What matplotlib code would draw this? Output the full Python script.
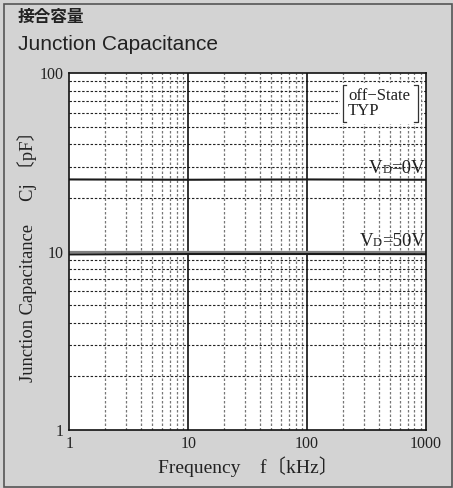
import matplotlib
matplotlib.use("Agg")
import matplotlib.pyplot as plt
from matplotlib.patches import Rectangle
from matplotlib.lines import Line2D
from matplotlib.offsetbox import TextArea, HPacker, AnnotationBbox
from matplotlib.ticker import FixedLocator

# ---- data ----
freq_khz = [1, 10, 100, 1000]
cj_vd0 = [25.4, 25.3, 25.4, 25.3]
cj_vd50 = [9.65, 9.7, 9.7, 9.68]
x_ticks = [1, 10, 100, 1000]
x_ticklabels = ["1", "10", "100", "1000"]
y_ticks = [1, 10, 100]
y_ticklabels = ["1", "10", "100"]
title_ja = "接合容量"
title_en = "Junction Capacitance"
xlabel = "Frequency　f〔kHz〕"
ylabel = "Junction Capacitance　 Cj 〔pF〕"
note_lines = ["off−State", "TYP"]

W, H = 453, 488
BG = "#d3d3d3"
TXT = "#222222"
SERIF = ["Liberation Serif", "DejaVu Serif"]

fig = plt.figure(figsize=(W / 100, H / 100), dpi=100, facecolor=BG)

# outer border
fig.patches.append(Rectangle((4 / W, 1 / H), (W - 5) / W, (H - 5) / H,
                             transform=fig.transFigure, fill=False,
                             edgecolor="#555555", lw=1.2))

fig.text(18 / W, 1 - 17 / H, title_ja, fontsize=12, fontweight="bold",
         family=["Noto Sans CJK JP", "DejaVu Sans"], color=TXT,
         ha="left", va="center")
fig.text(18 / W, 1 - 45 / H, title_en, fontsize=15,
         family=["Liberation Sans", "DejaVu Sans"], color=TXT,
         ha="left", va="center")

x0, x1 = 69.3, 426.0
y0, y1 = 73.3, 430.0
ax = fig.add_axes([x0 / W, 1 - y1 / H, (x1 - x0) / W, (y1 - y0) / H])
ax.set_facecolor("white")
ax.set_xscale("log")
ax.set_yscale("log")
ax.set_xlim(1, 1000)
ax.set_ylim(1, 100)

# grid
minor = [m * 10 ** e for e in range(0, 3) for m in range(2, 10)]
for v in minor:
    ax.axvline(v, color="#777777", lw=0.9, ls=(0, (2, 1.6)), zorder=1)
    ax.axhline(v, color="#222222", lw=0.8, ls=(0, (2.2, 1.6)), zorder=1)
for v in [10, 100]:
    ax.axvline(v, color="#111111", lw=1.2, zorder=1.5)
ax.axhline(10, color="#808080", lw=1.6, zorder=1.5)

ax.plot(freq_khz, cj_vd0, color="#1a1a1a", lw=1.5, zorder=3)
ax.plot(freq_khz, cj_vd50, color="#1a1a1a", lw=1.5, zorder=3)

ax.xaxis.set_major_locator(FixedLocator(x_ticks))
ax.yaxis.set_major_locator(FixedLocator(y_ticks))
ax.xaxis.set_minor_locator(FixedLocator([]))
ax.yaxis.set_minor_locator(FixedLocator([]))
ax.set_xticklabels(x_ticklabels)
ax.set_yticklabels(y_ticklabels)
ax.tick_params(length=0, pad=4, labelsize=11.5, labelcolor=TXT)
for lab in ax.get_xticklabels() + ax.get_yticklabels():
    lab.set_family(SERIF)
for s in ax.spines.values():
    s.set_color("#111111")
    s.set_linewidth(1.2)
    s.set_zorder(5)

fig.text(27 / W, 1 - (y0 + y1) / 2 / H, ylabel, rotation=90, fontsize=13.3,
         family=["Liberation Serif", "Noto Sans CJK JP"], color=TXT,
         ha="center", va="center")
fig.text((x0 + x1) / 2 / W, 1 - 467 / H, xlabel, fontsize=14,
         family=["Liberation Serif", "Noto Sans CJK JP"], color=TXT,
         ha="center", va="center")

# VD labels
def vd_label(val, y):
    props = dict(color=TXT, family=SERIF)
    box = HPacker(children=[TextArea("V", textprops=dict(size=13.5, **props)),
                            TextArea("D", textprops=dict(size=9, **props)),
                            TextArea("=" + val, textprops=dict(size=13.5, **props))],
                  align="baseline", pad=0, sep=0)
    ab = AnnotationBbox(box, (0.997, y), xycoords=("axes fraction", "data"),
                        box_alignment=(1, 0), frameon=False, zorder=4,
                        pad=0.05)
    ax.add_artist(ab)

vd_label("0V", 26.1)
vd_label("50V", 10.25)

# off-State box
ax.add_patch(Rectangle((0.759, 0.858), 0.226, 0.115, transform=ax.transAxes,
                       facecolor="white", edgecolor="none", zorder=2))
bl, br, bt, bb, sw = 0.767, 0.9775, 0.967, 0.8635, 0.010
for xs, ys in [([bl + sw, bl, bl, bl + sw], [bt, bt, bb, bb]),
               ([br - sw, br, br, br - sw], [bt, bt, bb, bb])]:
    ax.add_line(Line2D(xs, ys, transform=ax.transAxes, color="#333333",
                       lw=0.9, zorder=3))
ax.text(0.781, 0.937, note_lines[0], transform=ax.transAxes, fontsize=12,
        family=SERIF, color=TXT, ha="left", va="center", zorder=3)
ax.text(0.781, 0.895, note_lines[1], transform=ax.transAxes, fontsize=12,
        family=SERIF, color=TXT, ha="left", va="center", zorder=3)

fig.savefig("out.png", dpi=100, facecolor=BG)
